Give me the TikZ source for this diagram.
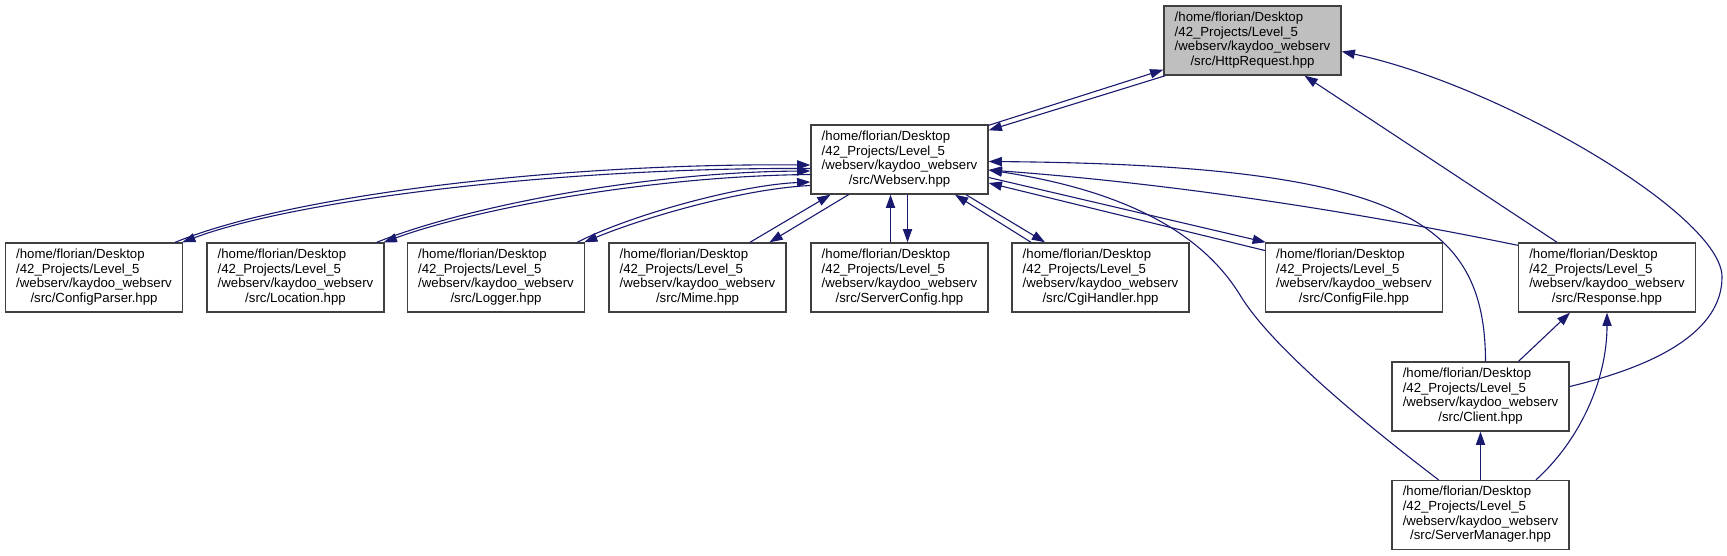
\documentclass[tikz,border=0pt]{standalone}
\usepackage{fontspec}
\setmainfont{Liberation Sans}
\usetikzlibrary{arrows.meta,calc}
\definecolor{edgeblue}{HTML}{191970}
\definecolor{boxgray}{HTML}{BFBFBF}
\newcommand\dxlabel[1]{\fontsize{6.6}{7.35}\selectfont\begin{tabular}{@{}l@{}}/home/florian/Desktop\\/42\_Projects/Level\_5\\/webserv/kaydoo\_webserv\\\multicolumn{1}{@{}c@{}}{/src/#1.hpp}\end{tabular}}
\begin{document}
\begin{tikzpicture}[x=0.5pt,y=-0.5pt,
  box/.style={draw=black!75, line width=0.7pt, fill=white, minimum width=88.5pt, minimum height=34.5pt, inner sep=0pt},
  edge/.style={draw=edgeblue, line width=0.55pt, -{Triangle[length=6.6pt,width=4.6pt]}}]
\useasboundingbox (0,0) rectangle (1727,556);
\node[box, fill=boxgray] (http) at (1252.5,40.5) {\dxlabel{HttpRequest}};
\node[box] (webserv) at (899.5,159.5) {\dxlabel{Webserv}};
\node[box] (cparser) at (94,277.5) {\dxlabel{ConfigParser}};
\node[box] (location) at (295.5,277.5) {\dxlabel{Location}};
\node[box] (logger) at (496,277.5) {\dxlabel{Logger}};
\node[box] (mime) at (697.5,277.5) {\dxlabel{Mime}};
\node[box] (sconfig) at (899.5,277.5) {\dxlabel{ServerConfig}};
\node[box] (cgi) at (1100.5,277.5) {\dxlabel{CgiHandler}};
\node[box] (cfile) at (1354,277.5) {\dxlabel{ConfigFile}};
\node[box] (response) at (1607,277.5) {\dxlabel{Response}};
\node[box] (client) at (1480.5,396.5) {\dxlabel{Client}};
\node[box] (smanager) at (1480.5,515) {\dxlabel{ServerManager}};
% Webserv <-> HttpRequest
\draw[edge] ($(webserv.north east)+(0,1)$) -- ($(http.south west)+(0,-6)$);
\draw[edge] ($(http.south west)+(2,0)$) -- ($(webserv.north east)+(0,6)$);
% Response, Client -> HttpRequest
\draw[edge] ($(response.north)+(-50,0)$) -- ($(http.south)+(52,0)$);
\draw[edge] ($(client.east)+(0,-10)$) .. controls (1660,365) and (1722,330) .. (1722,277) .. controls (1722,215) and (1500,85) .. ($(http.east)+(0,11)$);
% ConfigParser pair
\draw[edge] ($(cparser.north east)+(-8,0)$) .. controls (290,195) and (560,163) .. ($(webserv.west)+(0,5.5)$);
\draw[edge] ($(webserv.west)+(0,9)$) .. controls (560,167) and (295,200) .. ($(cparser.north east)+(-1,0)$);
% Location pair
\draw[edge] ($(location.north east)+(-8,0)$) .. controls (470,205) and (650,172) .. ($(webserv.west)+(0,11.5)$);
\draw[edge] ($(webserv.west)+(0,15)$) .. controls (650,176) and (475,209) .. ($(location.north east)+(-1,0)$);
% Logger pair
\draw[edge] ($(logger.north east)+(-8,0)$) .. controls (630,215) and (740,185) .. ($(webserv.west)+(0,22.5)$);
\draw[edge] ($(webserv.west)+(0,26)$) .. controls (740,189) and (640,219) .. ($(logger.north east)+(-1,0)$);
% Mime pair
\draw[edge] ($(mime.north)+(52.5,0)$) -- ($(webserv.south)+(-69,0)$);
\draw[edge] ($(webserv.south)+(-51,0)$) -- ($(mime.north)+(72,0)$);
% ServerConfig pair
\draw[edge] ($(sconfig.north)+(-9,0)$) -- ($(webserv.south)+(-9,0)$);
\draw[edge] ($(webserv.south)+(8,0)$) -- ($(sconfig.north)+(8,0)$);
% CgiHandler pair
\draw[edge] ($(cgi.north)+(-69.5,0)$) -- ($(webserv.south)+(55.5,0)$);
\draw[edge] ($(webserv.south)+(66.5,0)$) -- ($(cgi.north)+(-55.5,0)$);
% ConfigFile pair
\draw[edge] ($(webserv.east)+(0,18)$) -- ($(cfile.north west)+(1,0)$);
\draw[edge] ($(cfile.west)+(0,-27)$) -- ($(webserv.east)+(0,23.5)$);
% Response, Client, ServerManager -> Webserv
\draw[edge] ($(response.north west)+(0,3)$) .. controls (1341,209) and (1165,183) .. ($(webserv.east)+(0,10.5)$);
\draw[edge] ($(client.north)+(5,0)$) .. controls (1485,220) and (1400,165) .. ($(webserv.east)+(0,2)$);
\draw[edge] ($(smanager.north)+(-42,0)$) .. controls (1360,420) and (1270,345) .. (1240,295) .. controls (1200,230) and (1120,190) .. ($(webserv.east)+(0,10.5)$);
% Client, ServerManager -> Response
\draw[edge] ($(client.north)+(38,0)$) -- ($(response.south)+(-37,0)$);
\draw[edge] ($(smanager.north)+(55.5,0)$) .. controls (1580,440) and (1607,380) .. (response.south);
% ServerManager -> Client
\draw[edge] (smanager.north) -- (client.south);
\end{tikzpicture}
\end{document}
